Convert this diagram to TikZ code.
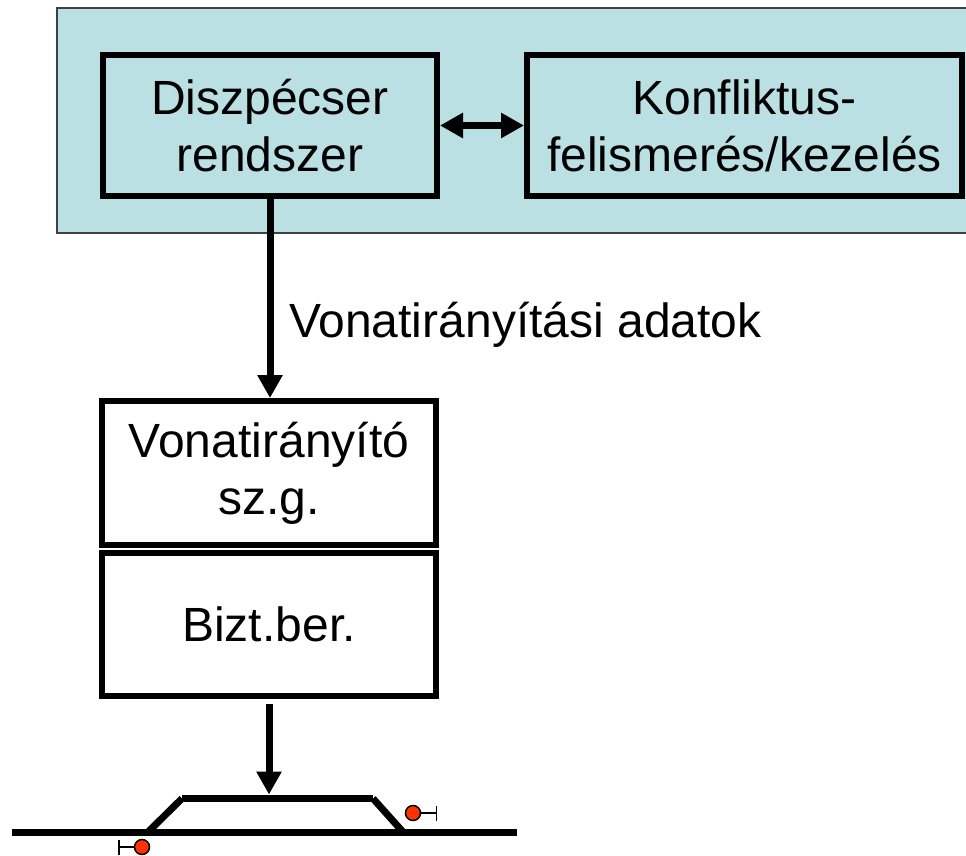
\documentclass[tikz,border=0pt]{standalone}
\usepackage{fontspec}
\setmainfont{Liberation Sans}
\usetikzlibrary{arrows.meta}
\definecolor{panelblue}{RGB}{187,224,227}
\definecolor{signalred}{RGB}{255,51,0}

\begin{document}
\begin{tikzpicture}[x=1pt,y=-1pt,
        box/.style={draw,line width=6pt,minimum width=334pt,minimum height=141pt,
            inner sep=0pt,align=center,font=\fontsize{48}{57}\selectfont},
        arr/.style={line width=7pt,-{Triangle[length=23pt,width=24pt]}},
        track/.style={line width=7pt},
        lamp/.style={circle,draw,line width=1.5pt,fill=signalred,minimum size=15pt,inner sep=0pt},
        stem/.style={line width=1.5pt,-{Bar[width=15pt,line width=1.5pt]}}]
    \useasboundingbox (0,0) rectangle (966,856);
    \filldraw[fill=panelblue,draw=black!75,line width=1.5pt] (57,8) rectangle (990,233);

    \node[box] (disp) at (270,125.5) {Diszpécser\\rendszer};
    \node[box,minimum width=435pt] (konf) at (744.5,125.5) {Konfliktus-\\felismerés/kezelés};
    \node[box,minimum height=144pt] (vona) at (269,473) {Vonatirányító\\sz.g.};
    \node[box,minimum height=143pt] (bizt) at (269,624.5) {Bizt.ber.};

    \draw[line width=7pt,{Triangle[length=23pt,width=24pt]}-{Triangle[length=23pt,width=24pt]}] (disp.east) -- (konf.west);
    \draw[arr] (disp.south) -- (disp.south |- vona.north);
    \node[anchor=base west,inner sep=0pt,font=\fontsize{48}{57}\selectfont] (adat) at (289,337) {Vonatirányítási adatok};

    \coordinate (sw1) at (148,832);
    \coordinate (sw1t) at (182,798.5);
    \coordinate (sw2t) at (373,798.5);
    \coordinate (sw2) at (403,832);
    \draw[track] (12,832) -- (517,832);
    \draw[track] (sw1) -- (sw1t);
    \draw[track] (sw1t) -- (sw2t);
    \draw[track] (sw2t) -- (sw2);
    \draw[arr,shorten <=5pt,shorten >=4pt] (bizt.south) -- (bizt.south |- sw1t);

    \node[lamp] (sigr) at (413,813) {};
    \coordinate (sigrend) at (437,813);
    \draw[stem] (sigr) -- (sigrend);
    \node[lamp] (sigl) at (142,847) {};
    \coordinate (siglend) at (118,847);
    \draw[stem] (sigl) -- (siglend);
\end{tikzpicture}
\end{document}
